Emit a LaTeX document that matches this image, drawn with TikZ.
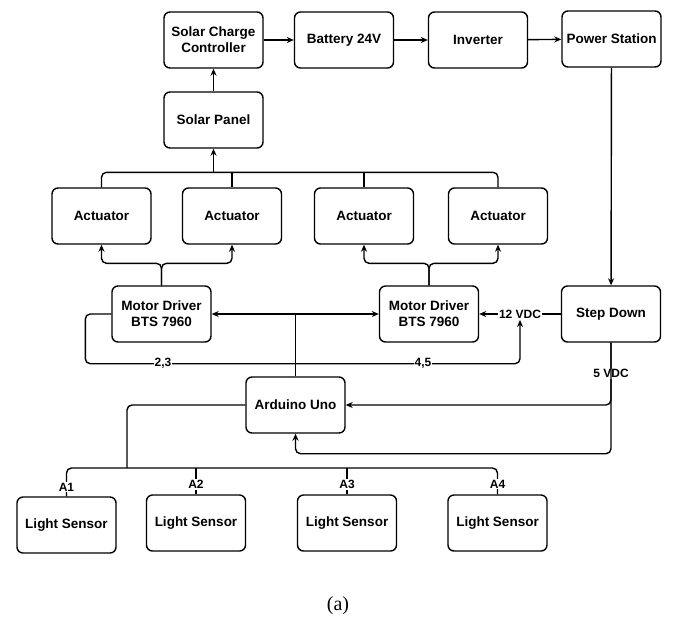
\documentclass[tikz,border=0pt]{standalone}
\usepackage{fontspec}
\setmainfont{Liberation Sans}
\newfontfamily\capfont{Liberation Serif}
\usetikzlibrary{arrows.meta, positioning, calc}

\begin{document}
\begin{tikzpicture}[x=1pt, y=-1pt,
    blk/.style={draw, rounded corners=6pt, minimum width=99pt, minimum height=56pt,
      inner sep=1pt, align=center, line width=1.4pt,
      font=\bfseries\fontsize{13.5}{16}\selectfont},
    wire/.style={line width=1.4pt, rounded corners=5pt},
    arr/.style={wire, -{Stealth[length=7pt, width=6pt]}},
    lbl/.style={fill=white, inner sep=1pt, font=\bfseries\fontsize{12}{13}\selectfont}]
    \useasboundingbox (0,0) rectangle (676,630);
    % Power chain
    \node[blk] (scc) at (213.5,40) {Solar Charge\\Controller};
    \node[blk] (bat) at (344,40) {Battery 24V};
    \node[blk] (inv) at (478,40) {Inverter};
    \node[blk] (ps) at (611.5,39) {Power Station};
    \node[blk] (sp) at (213.5,120) {Solar Panel};
    % Actuators and drivers
    \node[blk] (act1) at (101.5,216) {Actuator};
    \node[blk] (act2) at (232,216) {Actuator};
    \node[blk] (act3) at (364,216) {Actuator};
    \node[blk] (act4) at (498,216) {Actuator};
    \node[blk] (md1) at (161.5,314) {Motor Driver\\BTS 7960};
    \node[blk] (md2) at (429,314) {Motor Driver\\BTS 7960};
    \node[blk] (sd) at (611,314) {Step Down};
    % Controller and sensors
    \node[blk] (ard) at (295.5,405) {Arduino Uno};
    \node[blk] (ls1) at (66.5,525) {Light Sensor};
    \node[blk] (ls2) at (196,523) {Light Sensor};
    \node[blk] (ls3) at (347,523) {Light Sensor};
    \node[blk] (ls4) at (497.5,523) {Light Sensor};
    \node[font=\capfont\fontsize{20}{24}\selectfont] (cap) at (338,606) {(a)};

    % Top row
    \draw[arr] (scc) -- (bat);
    \draw[arr] (bat) -- (inv);
    \draw[arr] (inv) -- (ps);
    \draw[arr] (sp) -- (scc);
    \draw[arr] (ps) -- (sd);
    % Actuator bus to solar panel
    \coordinate (abus) at (sp.south |- 0,173);
    \draw[wire] (act1.north) -- ++(0,-15) -| (act4.north);
    \draw[wire] (act2.north) -- ++(0,-15);
    \draw[wire] (act3.north) -- ++(0,-15);
    \draw[arr] (abus) -- (sp);
    % Drivers to actuators
    \draw[arr] (md1.north) -- ++(0,-22) -| (act1.south);
    \draw[arr] (md1.north) -- ++(0,-22) -| (act2.south);
    \draw[arr] (md2.north) -- ++(0,-22) -| (act3.south);
    \draw[arr] (md2.north) -- ++(0,-22) -| (act4.south);
    % Arduino to drivers
    \coordinate (jn) at (ard.north |- md1.east);
    \draw[wire] (ard.north) -- (jn);
    \draw[arr] (jn) -- (md1.east);
    \draw[arr] (jn) -- (md2.west);
    % 12 VDC supply
    \draw[arr] (sd.west) -- node[lbl] (v12) {12 VDC} (md2.east);
    \draw[arr] (md1.west) -- ++(-26,0) |- ($(v12.south |- md1.south)+(0,21)$) -- (v12.south);
    \node[lbl] (p23) at (163,363) {2,3};
    \node[lbl] (p45) at (423,363) {4,5};
    % 5 VDC supply
    \draw[arr] (sd.south) |- node[lbl, pos=0.25] (v5) {5 VDC} (ard.east);
    \draw[arr] (sd.south) -- ++(0,111) -| (ard.south);
    % Sensors
    \coordinate (sbus) at (127,468);
    \draw[wire] (ard.west) -| (sbus);
    \draw[wire] (ls1.north) |- (sbus) -| (ls4.north);
    \draw[wire] (ls2.north) -- (ls2.north |- sbus);
    \draw[wire] (ls3.north) -- (ls3.north |- sbus);
    \node[lbl] (a1) at ($(ls1.north)+(0,-9)$) {A1};
    \node[lbl] (a2) at ($(ls2.north)+(0,-10)$) {A2};
    \node[lbl] (a3) at ($(ls3.north)+(0,-10)$) {A3};
    \node[lbl] (a4) at ($(ls4.north)+(0,-10)$) {A4};
\end{tikzpicture}
\end{document}
